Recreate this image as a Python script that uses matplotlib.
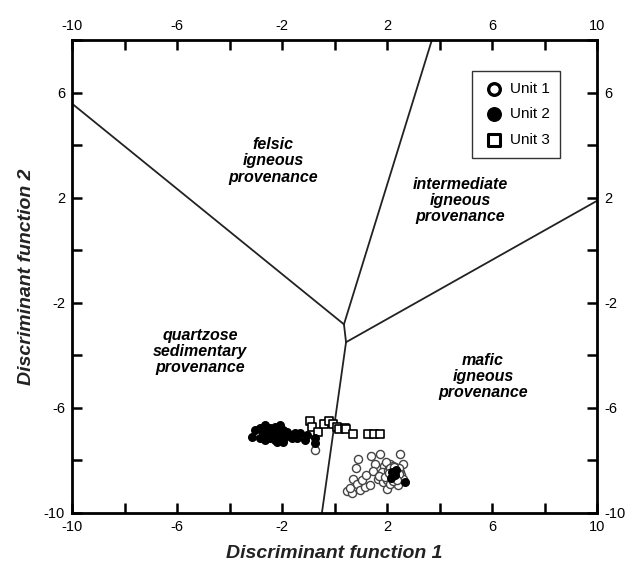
import matplotlib
matplotlib.use("Agg")
import matplotlib.pyplot as plt

plt.rcParams["font.family"] = ["Liberation Sans", "DejaVu Sans"]

# discriminant field boundaries (x, y)
junction_a = (0.36, -2.82)
junction_b = (0.44, -3.50)
boundaries = [
    [(-10.0, 5.58), junction_a],
    [junction_a, (3.71, 8.0)],
    [junction_a, junction_b],
    [junction_b, (10.0, 1.88)],
    [junction_b, (-0.48, -10.0)],
]

fields = [
    ("felsic\nigneous\nprovenance", -2.34, 3.4),
    ("intermediate\nigneous\nprovenance", 4.78, 1.9),
    ("quartzose\nsedimentary\nprovenance", -5.12, -3.85),
    ("mafic\nigneous\nprovenance", 5.66, -4.8),
]

unit1_x = [-0.74, 0.90, 1.39, 1.73, 2.50, 1.54, 0.70, 0.86, 0.48, 0.67, 0.97, 1.16,
           1.35, 1.05, 1.66, 1.85, 2.00, 2.38, 2.50, 2.61, 0.60, 1.20, 1.45, 0.80,
           1.90, 2.05, 2.20, 2.30, 2.15, 1.95, 2.40, 2.25, 2.10, 2.00, 2.35, 2.45,
           2.55, 1.80, 2.28, 2.12, 1.98, 2.42, 2.18, 2.32, 2.60, 1.70, 2.05, 2.22,
           2.14, 2.26, 2.36, 2.08, 2.18, 2.30, 2.40, 2.02, 2.24, 2.34, 2.12, 2.46,
           1.92, 2.20, 2.28, 2.16, 2.38, 2.06]
unit1_y = [-7.59, -7.93, -7.82, -7.74, -7.74, -8.12, -8.69, -8.89, -9.15, -9.23, -9.11, -9.00,
           -8.92, -8.73, -8.69, -8.81, -9.08, -8.31, -8.43, -8.12, -9.05, -8.55, -8.40, -8.30,
           -8.20, -8.35, -8.50, -8.25, -8.65, -8.55, -8.60, -8.40, -8.15, -8.75, -8.80, -8.30,
           -8.55, -8.45, -8.70, -8.90, -8.05, -8.95, -8.35, -8.55, -8.70, -8.60, -8.50, -8.20,
           -8.42, -8.48, -8.62, -8.58, -8.72, -8.36, -8.46, -8.40, -8.78, -8.68, -8.30, -8.50,
           -8.62, -8.60, -8.25, -8.52, -8.74, -8.46]

unit2_x = [-3.15, -3.03, -2.84, -2.65, -2.46, -2.27, -2.08, -1.95, -2.84, -2.65, -2.46,
           -2.27, -2.08, -1.89, -1.70, -1.50, -1.31, -2.71, -2.52, -2.33, -2.14, -1.82,
           -1.63, -1.44, -1.12, -1.06, -0.74, -0.74, -2.20, -1.95, 2.69, 2.20, 2.30,
           2.15, 2.35, 2.25]
unit2_y = [-7.09, -6.84, -6.77, -6.65, -6.77, -6.71, -6.65, -6.84, -7.16, -7.22, -7.16,
           -7.22, -7.16, -7.09, -7.03, -6.97, -6.97, -6.97, -6.97, -6.97, -6.97, -6.90,
           -7.16, -7.16, -7.22, -7.03, -7.16, -7.35, -7.28, -7.28, -8.81, -8.45, -8.55,
           -8.65, -8.35, -8.50]

unit3_x = [-0.93, -0.86, -0.63, -0.40, -0.21, -0.06, 0.10, 0.17, 0.40, 0.44, 0.70, 1.28, 1.50, 1.73]
unit3_y = [-6.48, -6.71, -6.90, -6.60, -6.48, -6.63, -6.71, -6.79, -6.75, -6.79, -6.98, -6.98, -6.98, -6.98]

label_ticks = [-10, -6, -2, 2, 6, 10]

fig = plt.figure(figsize=(6.35, 5.67), dpi=100)
ax = fig.add_axes([72 / 635, 1 - 513 / 567, 525 / 635, 473 / 567])
ax.set_xlim(-10, 10)
ax.set_ylim(-10, 8)

for seg in boundaries:
    (x0, y0), (x1, y1) = seg
    ax.plot([x0, x1], [y0, y1], color="#222222", linewidth=1.3, zorder=2)

for text, x, y in fields:
    ax.text(x, y, text, ha="center", va="center", fontsize=11.5,
            fontweight="bold", fontstyle="italic", linespacing=1.1)

ax.scatter(unit1_x, unit1_y, s=34, facecolors="white", edgecolors="#444444",
           linewidths=1.0, zorder=3)
ax.scatter(unit2_x, unit2_y, s=30, color="black", zorder=4)
ax.scatter(unit3_x, unit3_y, s=32, marker="s", facecolors="white",
           edgecolors="black", linewidths=1.2, zorder=3)

# legend proxies
h1 = ax.scatter([], [], s=70, facecolors="white", edgecolors="black", linewidths=2.4)
h2 = ax.scatter([], [], s=95, color="black")
h3 = ax.scatter([], [], s=80, marker="s", facecolors="white", edgecolors="black", linewidths=2.2)
leg = ax.legend([h1, h2, h3], ["Unit 1", "Unit 2", "Unit 3"], loc="upper right",
                bbox_to_anchor=(0.945, 0.95), fontsize=11, frameon=True,
                fancybox=False, edgecolor="black", handletextpad=0.3,
                borderpad=0.7, labelspacing=0.75, handlelength=1.5)
leg.get_frame().set_linewidth(1.0)

ticks = list(range(-10, 11, 2))
xlabels = [str(t) if t in label_ticks else "" for t in ticks]
ax.set_xticks(ticks)
ax.set_xticklabels(xlabels)
yticks = list(range(-10, 9, 2))
ylabels = [str(t) if t in label_ticks else "" for t in yticks]
ax.set_yticks(yticks)
ax.set_yticklabels(ylabels)
ax.tick_params(direction="in", length=7, width=1.8, labelsize=10.5,
               top=True, right=True, labeltop=True, labelright=True, pad=5)

for sp in ax.spines.values():
    sp.set_linewidth(2.0)

ax.set_xlabel("Discriminant function 1", fontsize=14, fontweight="bold",
              fontstyle="italic", color="#222222", labelpad=8)
ax.set_ylabel("Discriminant function 2", fontsize=14, fontweight="bold",
              fontstyle="italic", color="#222222", labelpad=6)

fig.savefig("out.png", dpi=100)
plt.close(fig)
